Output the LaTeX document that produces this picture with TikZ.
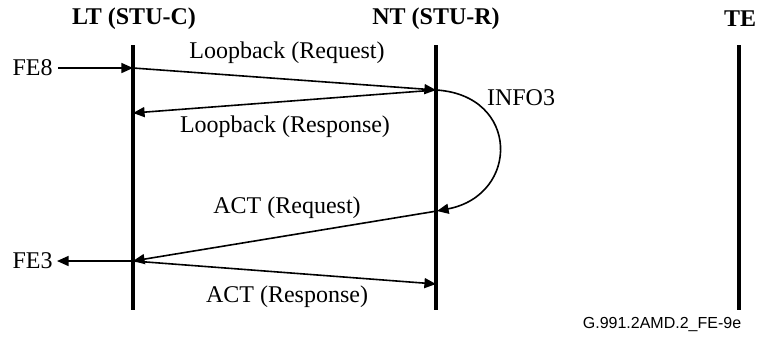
\documentclass[tikz,border=0pt]{standalone}
\usepackage{fontspec}
\setmainfont{Liberation Serif}
\newfontfamily\codefont{Liberation Sans}
\usetikzlibrary{arrows.meta}
\begin{document}
\begin{tikzpicture}[x=0.5pt,y=-0.5pt,
  lifeline/.style={line width=2pt},
  msg/.style={line width=0.8pt,-{Triangle[length=5.8pt,width=5pt]}},
  title/.style={font=\fontsize{12}{14}\selectfont\bfseries,inner sep=0pt},
  lbl/.style={font=\fontsize{12}{14}\selectfont,inner sep=0pt}]
\useasboundingbox (0,0) rectangle (758,338);
% lifelines
\coordinate (lttop) at (133,45); \coordinate (ltbot) at (133,310);
\coordinate (nttop) at (436,45); \coordinate (ntbot) at (436,310);
\coordinate (tetop) at (739,45); \coordinate (tebot) at (739,310);
\draw[lifeline] (lttop) -- (ltbot);
\draw[lifeline] (nttop) -- (ntbot);
\draw[lifeline] (tetop) -- (tebot);
% titles
\node[title] (tlt) at (134,19) {LT (STU-C)};
\node[title] (tnt) at (436,19) {NT (STU-R)};
\node[title] (tte) at (740,19) {TE};
% endpoints
\coordinate (lt1) at (133,68);
\coordinate (nt1) at (436,90);
\coordinate (lt2) at (133,113);
\coordinate (nt3) at (437,211);
\coordinate (lt3) at (133,261);
\coordinate (nt4) at (436,284);
% FE8
\node[lbl,anchor=east] (fe8) at (53,68) {FE8};
\draw[msg] (fe8.east) ++(5,0) coordinate (fe8s) -- (lt1);
% Loopback
\draw[msg] (lt1) -- (nt1);
\node[lbl] (lbreq) at (287,53) {Loopback (Request)};
\draw[msg] (nt1) -- (lt2);
\node[lbl] (lbres) at (285,127) {Loopback (Response)};
% INFO3
\draw[msg] (nt1) .. controls (520,95) and (520,195) .. (nt3);
\node[lbl] (info) at (521,98) {INFO3};
% ACT
\draw[msg] (nt3) -- (lt3);
\node[lbl] (actreq) at (287,208) {ACT (Request)};
\draw[msg] (lt3) -- (nt4);
\node[lbl] (actres) at (287,297) {ACT (Response)};
% FE3
\node[lbl,anchor=east] (fe3) at (53,261) {FE3};
\coordinate (fe3e) at (57,261);
\draw[msg] (lt3) -- (fe3e);
% code
\node[font=\codefont\fontsize{8}{10}\selectfont,inner sep=0pt] (code) at (662,324) {G.991.2AMD.2\_FE-9e};
\end{tikzpicture}
\end{document}
